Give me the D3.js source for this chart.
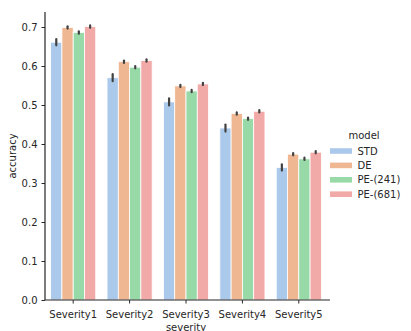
<!DOCTYPE html>
<html>
<head>
<meta charset="utf-8">
<script src="https://cdn.jsdelivr.net/npm/d3@7"></script>
<style>
  body { margin: 0; background: #fff; }
  svg { display: block; font-family: "DejaVu Sans", sans-serif; }
</style>
</head>
<body>
<div id="chart"></div>
<script>
var severities = ['Severity1', 'Severity2', 'Severity3', 'Severity4', 'Severity5'];
var models = ['STD', 'DE', 'PE-(241)', 'PE-(681)'];
var colors = ['#abc9ea', '#efb792', '#98daa7', '#f2aaa8'];
// mean accuracy per model, one value per severity
var stdAcc = [0.661, 0.570, 0.508, 0.441, 0.340];
var deAcc = [0.699, 0.611, 0.549, 0.478, 0.374];
var pe241Acc = [0.686, 0.597, 0.536, 0.465, 0.362];
var pe681Acc = [0.701, 0.614, 0.554, 0.484, 0.379];
// half-width of the error bars
var stdErr = [0.008, 0.009, 0.009, 0.009, 0.008];
var deErr = [0.003, 0.003, 0.003, 0.003, 0.003];
var pe241Err = [0.003, 0.003, 0.003, 0.003, 0.003];
var pe681Err = [0.003, 0.003, 0.003, 0.003, 0.003];
var yTicks = [0.0, 0.1, 0.2, 0.3, 0.4, 0.5, 0.6, 0.7];

var means = [stdAcc, deAcc, pe241Acc, pe681Acc];
var errs = [stdErr, deErr, pe241Err, pe681Err];

var W = 411, H = 331;
var m = { left: 45, right: 84, top: 12, bottom: 31 };
var svg = d3.select('#chart').append('svg').attr('width', W).attr('height', H);

var x = d3.scaleBand().domain(severities).range([m.left, W - m.right]).paddingInner(0.2).paddingOuter(0.1);
var xi = d3.scaleBand().domain(models).range([0, x.bandwidth()]);
var y = d3.scaleLinear().domain([0, 0.7385]).range([H - m.bottom, m.top]);

var rows = [];
models.forEach(function(mo, j) {
  severities.forEach(function(s, i) {
    rows.push({ sev: s, model: mo, j: j, v: means[j][i], e: errs[j][i] });
  });
});

var g = svg.append('g');
g.selectAll('rect.bar').data(rows).join('rect').attr('class', 'bar')
  .attr('x', function(d) { return x(d.sev) + xi(d.model); })
  .attr('width', xi.bandwidth())
  .attr('y', function(d) { return y(d.v); })
  .attr('height', function(d) { return y(0) - y(d.v); })
  .attr('fill', function(d) { return colors[d.j]; })
  .attr('stroke', '#fff').attr('stroke-width', 0.8);

g.selectAll('line.err').data(rows).join('line').attr('class', 'err')
  .attr('x1', function(d) { return x(d.sev) + xi(d.model) + xi.bandwidth() / 2; })
  .attr('x2', function(d) { return x(d.sev) + xi(d.model) + xi.bandwidth() / 2; })
  .attr('y1', function(d) { return y(d.v - d.e); })
  .attr('y2', function(d) { return y(d.v + d.e); })
  .attr('stroke', '#424242').attr('stroke-width', 2.2).attr('stroke-linecap', 'round');

// axes
var xAxis = svg.append('g').attr('transform', 'translate(0,' + (H - m.bottom) + ')')
  .call(d3.axisBottom(x).tickSize(3.5).tickPadding(7));
var yAxis = svg.append('g').attr('transform', 'translate(' + m.left + ',0)')
  .call(d3.axisLeft(y).tickValues(yTicks).tickFormat(d3.format('.1f')).tickSize(3.5).tickPadding(4));
[xAxis, yAxis].forEach(function(a) {
  a.selectAll('path').attr('stroke', '#262626').attr('stroke-width', 1.2);
  a.selectAll('line').attr('stroke', '#262626').attr('stroke-width', 1);
  a.selectAll('text').attr('fill', '#262626').attr('font-size', '10px').attr('font-family', 'DejaVu Sans');
});
xAxis.select('path').attr('d', 'M' + m.left + ',0H' + (W - m.right + 3));
yAxis.select('path').attr('d', 'M0,' + (H - m.bottom) + 'V' + m.top);

svg.append('text').attr('x', (m.left + W - m.right) / 2).attr('y', 331)
  .attr('text-anchor', 'middle').attr('font-size', '10px').attr('fill', '#262626').text('severity');
svg.append('text').attr('transform', 'translate(15.5,' + ((m.top + H - m.bottom) / 2) + ') rotate(-90)')
  .attr('text-anchor', 'middle').attr('font-size', '10px').attr('fill', '#262626').text('accuracy');

// legend
var lg = svg.append('g').attr('transform', 'translate(330,0)');
lg.append('text').attr('x', 34).attr('y', 138.5).attr('text-anchor', 'middle')
  .attr('font-size', '10px').attr('fill', '#262626').text('model');
var items = lg.selectAll('g.item').data(models).join('g').attr('class', 'item')
  .attr('transform', function(d, i) { return 'translate(0,' + (151 + i * 14.4) + ')'; });
items.append('rect').attr('x', 0).attr('y', -2.8).attr('width', 22).attr('height', 5.6)
  .attr('fill', function(d, i) { return colors[i]; });
items.append('text').attr('x', 27.5).attr('y', 3.6).attr('font-size', '10px').attr('fill', '#262626')
  .text(function(d) { return d; });
</script>
</body>
</html>
